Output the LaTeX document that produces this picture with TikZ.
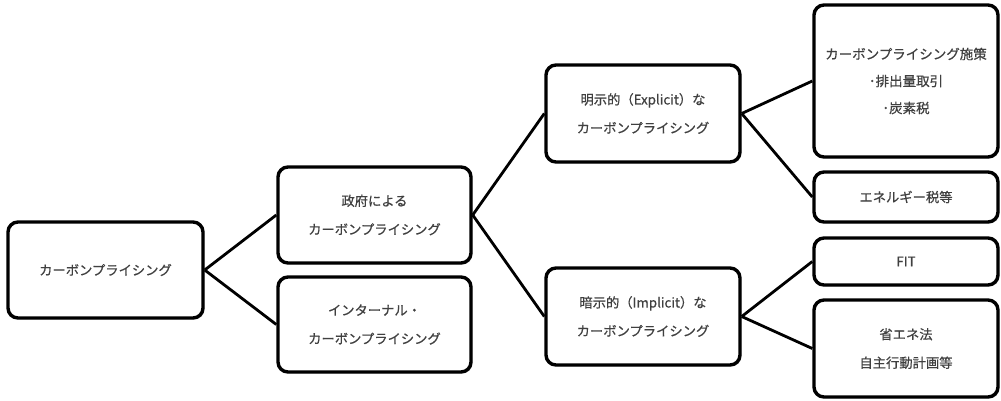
\documentclass[tikz,border=0pt]{standalone}
\usepackage{fontspec}
\setmainfont{Noto Sans CJK JP}
\newfontfamily\jpfont[FakeBold=0.6]{Noto Sans CJK JP}
\usetikzlibrary{shadows}
\begin{document}
\begin{tikzpicture}[x=1pt,y=-1pt,
  box/.style={draw=black, line width=3.4pt, rounded corners=10pt, fill=white,
    align=center, text=black!75, font=\jpfont\fontsize{13.3}{28.5}\selectfont,
    inner sep=0pt, drop shadow={shadow xshift=1.5pt, shadow yshift=-1.5pt, opacity=0.3}},
  link/.style={line width=2.8pt, black}]
\useasboundingbox (0,0) rectangle (1001,400);
\node[box, minimum width=195pt, minimum height=96pt] (root) at (105.5,270) {カーボンプライシング};
\node[box, minimum width=193pt, minimum height=96pt] (gov) at (374.5,215) {政府による\\カーボンプライシング};
\node[box, minimum width=193pt, minimum height=95pt] (int) at (374.5,324.5) {インターナル・\\カーボンプライシング};
\node[box, minimum width=194pt, minimum height=97pt] (exp) at (643,113.5) {明示的（Explicit）な\\カーボンプライシング};
\node[box, minimum width=194pt, minimum height=97pt] (imp) at (643,316.5) {暗示的（Implicit）な\\カーボンプライシング};
\node[box, minimum width=184pt, minimum height=152pt, font=\jpfont\fontsize{13.5}{27}\selectfont] (pol) at (906,81) {カーボンプライシング施策\\･排出量取引\\･炭素税};
\node[box, minimum width=184pt, minimum height=50pt] (ene) at (906,197) {エネルギー税等};
\node[box, minimum width=184pt, minimum height=47pt] (fit) at (906,261.5) {FIT};
\node[box, minimum width=184pt, minimum height=97pt] (sho) at (906,348.5) {省エネ法\\自主行動計画等};
\draw[link] (root.east) -- (gov.west);
\draw[link] (root.east) -- (int.west);
\draw[link] (gov.east) -- (exp.west);
\draw[link] (gov.east) -- (imp.west);
\draw[link] (exp.east) -- (pol.west);
\draw[link] (exp.east) -- (ene.west);
\draw[link] (imp.east) -- (fit.west);
\draw[link] (imp.east) -- (sho.west);
\end{tikzpicture}
\end{document}
